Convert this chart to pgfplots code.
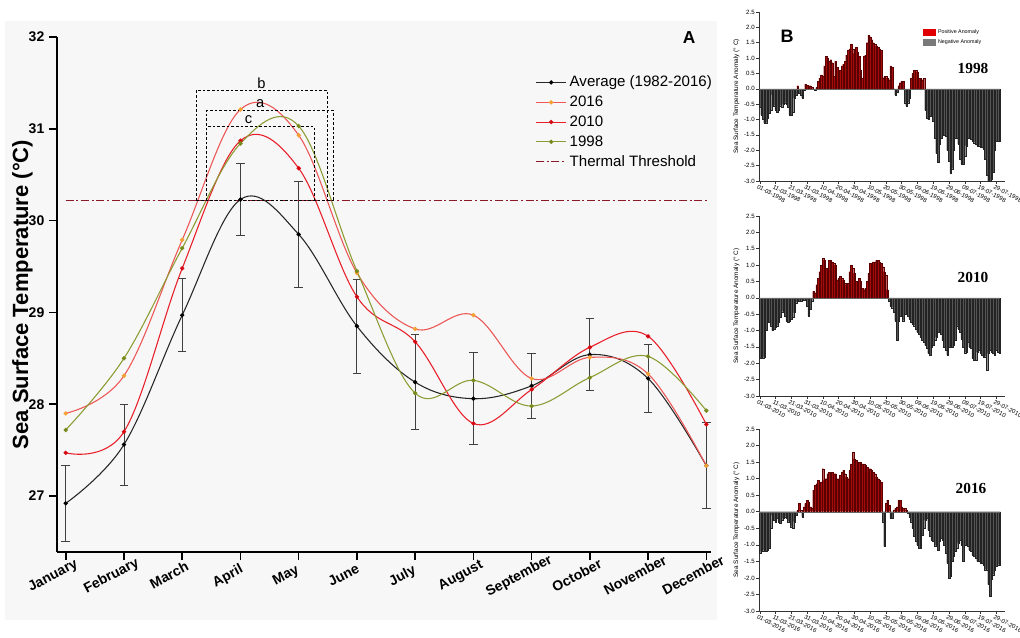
\documentclass[border=0pt]{standalone}
\usepackage{fontspec}
\setmainfont{Liberation Sans}
\newfontfamily\yearfont{Liberation Serif}
\usepackage{pgfplots}
\usepackage{pgfplotstable}
\pgfplotsset{compat=1.18}

\definecolor{c2016}{RGB}{238,85,85}
\definecolor{m2016}{RGB}{245,160,50}
\definecolor{c2010}{RGB}{232,30,40}
\definecolor{m2010}{RGB}{215,10,20}
\definecolor{c1998}{RGB}{140,155,50}
\definecolor{m1998}{RGB}{120,140,30}
\definecolor{thr}{RGB}{140,25,40}
\definecolor{posbar}{RGB}{165,12,12}
\definecolor{posedge}{RGB}{90,0,0}
\definecolor{negbar}{RGB}{85,85,85}
\definecolor{negedge}{RGB}{35,35,35}

\pgfplotstableread[row sep=\\]{
d v\\
0 -0.6\\ 1 -0.85\\ 2 -1.0\\ 3 -1.12\\ 4 -1.1\\ 5 -0.95\\ 6 -0.8\\ 7 -0.7\\ 8 -0.2\\ 9 -0.55\\
10 -0.7\\ 11 -0.75\\ 12 -0.7\\ 13 -0.55\\ 14 -0.6\\ 15 -0.5\\ 16 -0.45\\ 17 -0.5\\ 18 -0.6\\ 19 -0.85\\
20 -0.85\\ 21 -0.75\\ 22 -0.3\\ 23 -0.2\\ 24 0.1\\ 25 -0.15\\ 26 -0.2\\ 27 -0.3\\ 28 -0.05\\ 29 0.15\\
30 0.12\\ 31 0.1\\ 32 0.1\\ 33 0.05\\ 34 0.0\\ 35 -0.05\\ 36 0.05\\ 37 0.25\\ 38 0.35\\ 39 0.45\\
40 0.4\\ 41 0.75\\ 42 1.05\\ 43 1.0\\ 44 0.9\\ 45 0.95\\ 46 0.85\\ 47 0.4\\ 48 0.9\\ 49 0.7\\
50 0.55\\ 51 0.6\\ 52 0.75\\ 53 0.8\\ 54 0.9\\ 55 1.1\\ 56 1.25\\ 57 1.3\\ 58 1.45\\ 59 1.3\\
60 1.15\\ 61 1.35\\ 62 1.2\\ 63 1.05\\ 64 0.6\\ 65 0.35\\ 66 1.05\\ 67 1.1\\ 68 1.5\\ 69 1.75\\
70 1.7\\ 71 1.6\\ 72 1.5\\ 73 1.45\\ 74 1.4\\ 75 1.35\\ 76 1.3\\ 77 1.25\\ 78 0.35\\ 79 0.4\\
80 0.4\\ 81 0.35\\ 82 0.3\\ 83 0.75\\ 84 0.7\\ 85 0.0\\ 86 -0.2\\ 87 -0.1\\ 88 0.1\\ 89 0.2\\
90 0.25\\ 91 0.25\\ 92 -0.45\\ 93 -0.55\\ 94 -0.45\\ 95 -0.3\\ 96 0.35\\ 97 0.5\\ 98 0.6\\ 99 0.6\\
100 0.55\\ 101 0.35\\ 102 0.35\\ 103 0.3\\ 104 0.35\\ 105 -0.7\\ 106 -0.95\\ 107 -1.0\\ 108 -0.9\\ 109 -0.8\\
110 -1.05\\ 111 -1.6\\ 112 -2.1\\ 113 -2.4\\ 114 -1.8\\ 115 -1.6\\ 116 -1.45\\ 117 -1.5\\ 118 -1.55\\ 119 -2.0\\
120 -2.35\\ 121 -2.75\\ 122 -2.6\\ 123 -2.0\\ 124 -1.6\\ 125 -1.6\\ 126 -1.8\\ 127 -2.3\\ 128 -2.45\\ 129 -2.45\\
130 -2.2\\ 131 -1.85\\ 132 -1.6\\ 133 -1.6\\ 134 -1.65\\ 135 -1.7\\ 136 -1.75\\ 137 -1.8\\ 138 -1.85\\ 139 -1.85\\
140 -1.9\\ 141 -1.9\\ 142 -1.95\\ 143 -2.3\\ 144 -2.8\\ 145 -3.0\\ 146 -3.0\\ 147 -2.95\\ 148 -2.7\\ 149 -2.0\\
150 -1.7\\ 151 -1.7\\ 152 -1.7\\
}\tabA

\pgfplotstableread[row sep=\\]{
d v\\
0 -1.85\\ 1 -1.85\\ 2 -1.85\\ 3 -1.8\\ 4 -1.0\\ 5 -0.7\\ 6 -0.75\\ 7 -0.85\\ 8 -1.0\\ 9 -0.95\\
10 -0.9\\ 11 -0.85\\ 12 -0.75\\ 13 -0.6\\ 14 -0.45\\ 15 -0.4\\ 16 -0.55\\ 17 -0.7\\ 18 -0.75\\ 19 -0.7\\
20 -0.65\\ 21 -0.6\\ 22 -0.45\\ 23 -0.15\\ 24 -0.1\\ 25 -0.1\\ 26 -0.1\\ 27 -0.08\\ 28 -0.08\\ 29 -0.05\\
30 -0.25\\ 31 -0.55\\ 32 -0.35\\ 33 -0.1\\ 34 0.2\\ 35 0.15\\ 36 0.4\\ 37 0.6\\ 38 0.8\\ 39 1.0\\
40 1.2\\ 41 1.15\\ 42 0.9\\ 43 0.85\\ 44 1.15\\ 45 1.15\\ 46 1.1\\ 47 1.05\\ 48 1.0\\ 49 0.55\\
50 0.6\\ 51 0.65\\ 52 0.6\\ 53 0.55\\ 54 0.45\\ 55 0.4\\ 56 0.45\\ 57 0.8\\ 58 1.0\\ 59 0.9\\
60 0.75\\ 61 0.5\\ 62 0.5\\ 63 0.6\\ 64 0.5\\ 65 0.3\\ 66 0.25\\ 67 0.3\\ 68 0.5\\ 69 0.75\\
70 1.05\\ 71 1.05\\ 72 1.1\\ 73 1.1\\ 74 1.15\\ 75 1.15\\ 76 1.1\\ 77 1.05\\ 78 0.95\\ 79 0.8\\
80 0.7\\ 81 0.25\\ 82 -0.1\\ 83 -0.25\\ 84 -0.3\\ 85 -0.45\\ 86 -0.7\\ 87 -1.3\\ 88 -0.7\\ 89 -0.55\\
90 -0.5\\ 91 -0.7\\ 92 -0.5\\ 93 -0.5\\ 94 -0.55\\ 95 -0.65\\ 96 -0.75\\ 97 -0.8\\ 98 -0.85\\ 99 -0.95\\
100 -1.05\\ 101 -1.1\\ 102 -1.2\\ 103 -1.3\\ 104 -1.35\\ 105 -1.45\\ 106 -1.55\\ 107 -1.7\\ 108 -1.75\\ 109 -1.5\\
110 -1.45\\ 111 -1.3\\ 112 -1.2\\ 113 -1.05\\ 114 -1.0\\ 115 -1.1\\ 116 -1.3\\ 117 -1.5\\ 118 -1.6\\ 119 -1.75\\
120 -1.5\\ 121 -1.45\\ 122 -1.5\\ 123 -1.45\\ 124 -1.3\\ 125 -0.85\\ 126 -0.95\\ 127 -1.05\\ 128 -1.25\\ 129 -1.5\\
130 -1.7\\ 131 -1.65\\ 132 -1.35\\ 133 -1.5\\ 134 -1.55\\ 135 -1.85\\ 136 -1.9\\ 137 -1.9\\ 138 -1.65\\ 139 -1.6\\
140 -1.7\\ 141 -1.75\\ 142 -1.8\\ 143 -1.8\\ 144 -2.2\\ 145 -1.7\\ 146 -1.6\\ 147 -1.65\\ 148 -1.7\\ 149 -1.75\\
150 -1.6\\ 151 -1.65\\ 152 -1.7\\
}\tabB

\pgfplotstableread[row sep=\\]{
d v\\
0 -1.25\\ 1 -1.2\\ 2 -1.2\\ 3 -1.15\\ 4 -1.2\\ 5 -1.15\\ 6 -1.1\\ 7 -0.5\\ 8 -0.1\\ 9 -0.25\\
10 -0.3\\ 11 -0.2\\ 12 -0.3\\ 13 -0.35\\ 14 -0.25\\ 15 -0.2\\ 16 -0.15\\ 17 -0.2\\ 18 -0.3\\ 19 -0.3\\
20 -0.45\\ 21 -0.5\\ 22 -0.3\\ 23 -0.1\\ 24 0.05\\ 25 0.25\\ 26 0.05\\ 27 -0.15\\ 28 0.15\\ 29 0.25\\
30 0.35\\ 31 0.3\\ 32 0.15\\ 33 0.1\\ 34 0.65\\ 35 0.8\\ 36 0.85\\ 37 0.95\\ 38 0.75\\ 39 0.9\\
40 1.3\\ 41 0.95\\ 42 1.0\\ 43 1.15\\ 44 1.2\\ 45 1.2\\ 46 1.2\\ 47 1.15\\ 48 1.15\\ 49 1.0\\
50 1.0\\ 51 1.1\\ 52 1.2\\ 53 1.25\\ 54 1.15\\ 55 1.05\\ 56 1.0\\ 57 1.25\\ 58 1.45\\ 59 1.8\\
60 1.6\\ 61 1.55\\ 62 1.5\\ 63 1.5\\ 64 1.5\\ 65 1.45\\ 66 1.45\\ 67 1.4\\ 68 1.35\\ 69 1.3\\
70 1.3\\ 71 1.25\\ 72 1.2\\ 73 1.15\\ 74 1.05\\ 75 1.0\\ 76 0.95\\ 77 0.9\\ 78 -0.3\\ 79 -1.05\\
80 0.25\\ 81 0.35\\ 82 0.2\\ 83 -0.2\\ 84 -0.2\\ 85 0.05\\ 86 0.1\\ 87 0.15\\ 88 0.35\\ 89 0.35\\
90 0.15\\ 91 0.1\\ 92 0.1\\ 93 0.05\\ 94 -0.05\\ 95 -0.15\\ 96 -0.3\\ 97 -0.5\\ 98 -0.75\\ 99 -0.9\\
100 -1.0\\ 101 -1.1\\ 102 -1.1\\ 103 -0.7\\ 104 -0.5\\ 105 -0.25\\ 106 -0.2\\ 107 -0.55\\ 108 -0.75\\ 109 -0.85\\
110 -0.9\\ 111 -1.05\\ 112 -1.0\\ 113 -1.15\\ 114 -0.9\\ 115 -0.8\\ 116 -0.85\\ 117 -1.0\\ 118 -1.25\\ 119 -1.55\\
120 -2.0\\ 121 -1.95\\ 122 -1.5\\ 123 -1.35\\ 124 -1.2\\ 125 -1.1\\ 126 -0.95\\ 127 -0.85\\ 128 -1.0\\ 129 -1.5\\
130 -1.0\\ 131 -1.0\\ 132 -1.05\\ 133 -1.15\\ 134 -1.2\\ 135 -1.3\\ 136 -1.35\\ 137 -1.4\\ 138 -1.5\\ 139 -1.5\\
140 -1.55\\ 141 -1.55\\ 142 -1.6\\ 143 -1.75\\ 144 -1.75\\ 145 -2.2\\ 146 -2.55\\ 147 -2.05\\ 148 -1.9\\ 149 -1.75\\
150 -1.65\\ 151 -1.6\\ 152 -1.6\\
}\tabC

\pgfplotsset{
  anom/.style={
    anchor=south west, scale only axis, width=184.5pt,
    xmin=-0.5, xmax=155.5, ymin=-3, ymax=2.5,
    axis lines=left, axis line style={-, line width=0.5pt, black!80},
    tick align=outside, major tick length=2pt,
    tick style={line width=0.4pt, black!80},
    xtick={0,10,20,30,40,50,60,70,80,90,100,110,120,130,140,150},
    ytick={-3,-2.5,-2,-1.5,-1,-0.5,0,0.5,1,1.5,2,2.5},
    /pgf/number format/assume math mode=true,
    yticklabel style={font=\fontsize{4.6}{5}\selectfont, inner sep=1pt,
      /pgf/number format/fixed, /pgf/number format/fixed zerofill,
      /pgf/number format/precision=1},
    xticklabel style={font=\fontsize{4.5}{5}\selectfont, rotate=-28,
      anchor=north west, inner sep=0.8pt, xshift=-1.5pt},
    ylabel={Sea Surface Temperature Anomaly (° C)},
    ylabel style={font=\fontsize{4.8}{5}\selectfont, at={(axis description cs:-0.092,0.5)}, anchor=center},
  },
  posb/.style={ybar, bar width=1, bar shift=0pt, fill=posbar, draw=posedge,
    line width=0.12pt, restrict y to domain=0:5, forget plot},
  negb/.style={ybar, bar width=1, bar shift=0pt, fill=negbar, draw=negedge,
    line width=0.12pt, restrict y to domain=-5:0, forget plot},
}

\begin{document}
\begin{tikzpicture}
\path[use as bounding box] (0,0) rectangle (765pt,477.75pt);
\fill[black!3] (3.75pt,12.75pt) rectangle (537.75pt,462pt);

% ---------------- Panel A ----------------
\begin{axis}[
  at={(42.75pt,63.75pt)}, anchor=south west, scale only axis,
  width=490.5pt, height=386.25pt,
  xmin=-0.15, xmax=11.08, ymin=26.39, ymax=32,
  axis lines=left, axis line style={-, line width=1.5pt},
  tick align=outside, major tick length=6pt,
  tick style={line width=1.2pt, black},
  xtick={0,1,2,3,4,5,6,7,8,9,10,11},
  xticklabels={January,February,March,April,May,June,July,August,September,October,November,December},
  ytick={27,28,29,30,31,32},
  /pgf/number format/assume math mode=true,
  yticklabel style={font=\bfseries\fontsize{10.5}{12}\selectfont},
  xticklabel style={font=\bfseries\fontsize{10.5}{12}\selectfont, rotate=28, anchor=north, xshift=-14pt, yshift=2pt},
  ylabel={Sea Surface Temperature (°C)},
  ylabel style={font=\bfseries\fontsize{16.5}{18}\selectfont, at={(axis description cs:-0.053,0.5)}, anchor=center},
  legend style={draw=none, fill=none, at={(0.731,0.93)}, anchor=north west,
    font=\fontsize{11.3}{12.5}\selectfont, row sep=1.4pt, inner sep=0pt},
  legend cell align=left,
  legend image code/.code={\draw[mark repeat=2,mark phase=2,#1] plot coordinates {(0cm,0cm) (0.4cm,0cm) (0.8cm,0cm)};},
]
\addplot[black!85, line width=0.8pt, smooth, tension=0.6, mark=*, mark size=1.2pt,
  mark options={fill=black, draw=black},
  error bars/.cd, y dir=both, y explicit,
  error bar style={black!75, line width=0.7pt},
  error mark options={rotate=90, mark size=3.2pt, line width=0.7pt, black!75}]
  coordinates {(0,26.92) +- (0,0.41) (1,27.56) +- (0,0.44) (2,28.97) +- (0,0.40)
  (3,30.23) +- (0,0.39) (4,29.85) +- (0,0.58) (5,28.85) +- (0,0.51)
  (6,28.24) +- (0,0.52) (7,28.06) +- (0,0.50) (8,28.20) +- (0,0.35)
  (9,28.54) +- (0,0.39) (10,28.28) +- (0,0.37) (11,27.33) +- (0,0.47)};
\addlegendentry{Average (1982-2016)}
\addplot[c2016, line width=0.8pt, smooth, tension=0.6, mark=*, mark size=1.2pt,
  mark options={fill=m2016, draw=m2016}]
  coordinates {(0,27.90) (1,28.31) (2,29.79) (3,31.21) (4,30.93) (5,29.43)
  (6,28.82) (7,28.97) (8,28.28) (9,28.51) (10,28.33) (11,27.33)};
\addlegendentry{2016}
\addplot[c2010, line width=0.8pt, smooth, tension=0.6, mark=*, mark size=1.2pt,
  mark options={fill=m2010, draw=m2010}]
  coordinates {(0,27.47) (1,27.70) (2,29.48) (3,30.87) (4,30.57) (5,29.17)
  (6,28.68) (7,27.79) (8,28.16) (9,28.62) (10,28.74) (11,27.78)};
\addlegendentry{2010}
\addplot[c1998, line width=0.8pt, smooth, tension=0.6, mark=*, mark size=1.2pt,
  mark options={fill=m1998, draw=m1998}]
  coordinates {(0,27.72) (1,28.50) (2,29.70) (3,30.84) (4,31.03) (5,29.45)
  (6,28.12) (7,28.26) (8,27.98) (9,28.29) (10,28.52) (11,27.93)};
\addlegendentry{1998}
\addplot[thr, line width=1pt, dash pattern=on 6pt off 2pt on 1.5pt off 2pt]
  coordinates {(0,30.22) (11.05,30.22)};
\addlegendentry{Thermal Threshold}
% dashed boxes
\addplot[black, line width=0.7pt, dash pattern=on 2pt off 1.5pt, forget plot]
  coordinates {(2.24,30.22) (2.24,31.42) (4.49,31.42) (4.49,30.22)};
\addplot[black, line width=0.7pt, dash pattern=on 2pt off 1.5pt, forget plot]
  coordinates {(2.42,30.22) (2.42,31.20) (4.60,31.20) (4.60,30.22)};
\addplot[black, line width=0.7pt, dash pattern=on 2pt off 1.5pt, forget plot]
  coordinates {(2.42,30.22) (2.42,31.02) (4.27,31.02) (4.27,30.22)};
\addplot[black, line width=0.7pt, dash pattern=on 2pt off 1.5pt, forget plot]
  coordinates {(2.24,30.22) (4.60,30.22)};
\node[font=\fontsize{11}{12}\selectfont] at (axis cs:3.36,31.50) {b};
\node[font=\fontsize{11}{12}\selectfont] at (axis cs:3.34,31.27) {a};
\node[font=\fontsize{11}{12}\selectfont] at (axis cs:3.14,31.10) {c};
\end{axis}
\node[font=\bfseries\fontsize{13}{14}\selectfont] at (516.75pt,449.25pt) {A};

% ---------------- Panel B : 1998 ----------------
\begin{axis}[anom, at={(569.25pt,342pt)}, height=126.75pt,
  xticklabels={01-03-1998,11-03-1998,21-03-1998,31-03-1998,10-04-1998,20-04-1998,30-04-1998,10-05-1998,20-05-1998,30-05-1998,09-06-1998,19-06-1998,29-06-1998,09-07-1998,19-07-1998,29-07-1998},
  legend style={draw=none, fill=none, at={(0.665,0.915)}, anchor=north west,
    font=\fontsize{4}{4.5}\selectfont, inner sep=0pt, row sep=-0.6pt},
  legend cell align=left,
]
\addplot[posb] table[x=d,y=v]{\tabA};
\addplot[negb] table[x=d,y=v]{\tabA};
\addplot[black!60, line width=0.3pt, forget plot] coordinates {(-0.5,0) (152.5,0)};
\addlegendimage{legend image code/.code={\fill[red!88!black] (0pt,-2.3pt) rectangle (9pt,2.3pt);}}
\addlegendentry{Positive Anomaly}
\addlegendimage{legend image code/.code={\fill[black!52] (0pt,-2.3pt) rectangle (9pt,2.3pt);}}
\addlegendentry{Negative Anomaly}
\end{axis}

% ---------------- Panel B : 2010 ----------------
\begin{axis}[anom, at={(569.25pt,180.75pt)}, height=135pt,
  xticklabels={01-03-2010,11-03-2010,21-03-2010,31-03-2010,10-04-2010,20-04-2010,30-04-2010,10-05-2010,20-05-2010,30-05-2010,09-06-2010,19-06-2010,29-06-2010,09-07-2010,19-07-2010,29-07-2010},
]
\addplot[posb] table[x=d,y=v]{\tabB};
\addplot[negb] table[x=d,y=v]{\tabB};
\addplot[black!60, line width=0.3pt, forget plot] coordinates {(-0.5,0) (152.5,0)};
\end{axis}

% ---------------- Panel B : 2016 ----------------
\begin{axis}[anom, at={(569.25pt,19.5pt)}, height=136.5pt,
  xticklabels={01-03-2016,11-03-2016,21-03-2016,31-03-2016,10-04-2016,20-04-2016,30-04-2016,10-05-2016,20-05-2016,30-05-2016,09-06-2016,19-06-2016,29-06-2016,09-07-2016,19-07-2016,29-07-2016},
]
\addplot[posb] table[x=d,y=v]{\tabC};
\addplot[negb] table[x=d,y=v]{\tabC};
\addplot[black!60, line width=0.3pt, forget plot] coordinates {(-0.5,0) (152.5,0)};
\end{axis}

\node[font=\bfseries\fontsize{13.5}{14}\selectfont] at (590.25pt,450.75pt) {B};
\node[font=\yearfont\bfseries\fontsize{11.5}{12}\selectfont] at (729.75pt,426.75pt) {1998};
\node[font=\yearfont\bfseries\fontsize{11.5}{12}\selectfont] at (729.75pt,270pt) {2010};
\node[font=\yearfont\bfseries\fontsize{11.5}{12}\selectfont] at (728.25pt,111.75pt) {2016};
\end{tikzpicture}
\end{document}
